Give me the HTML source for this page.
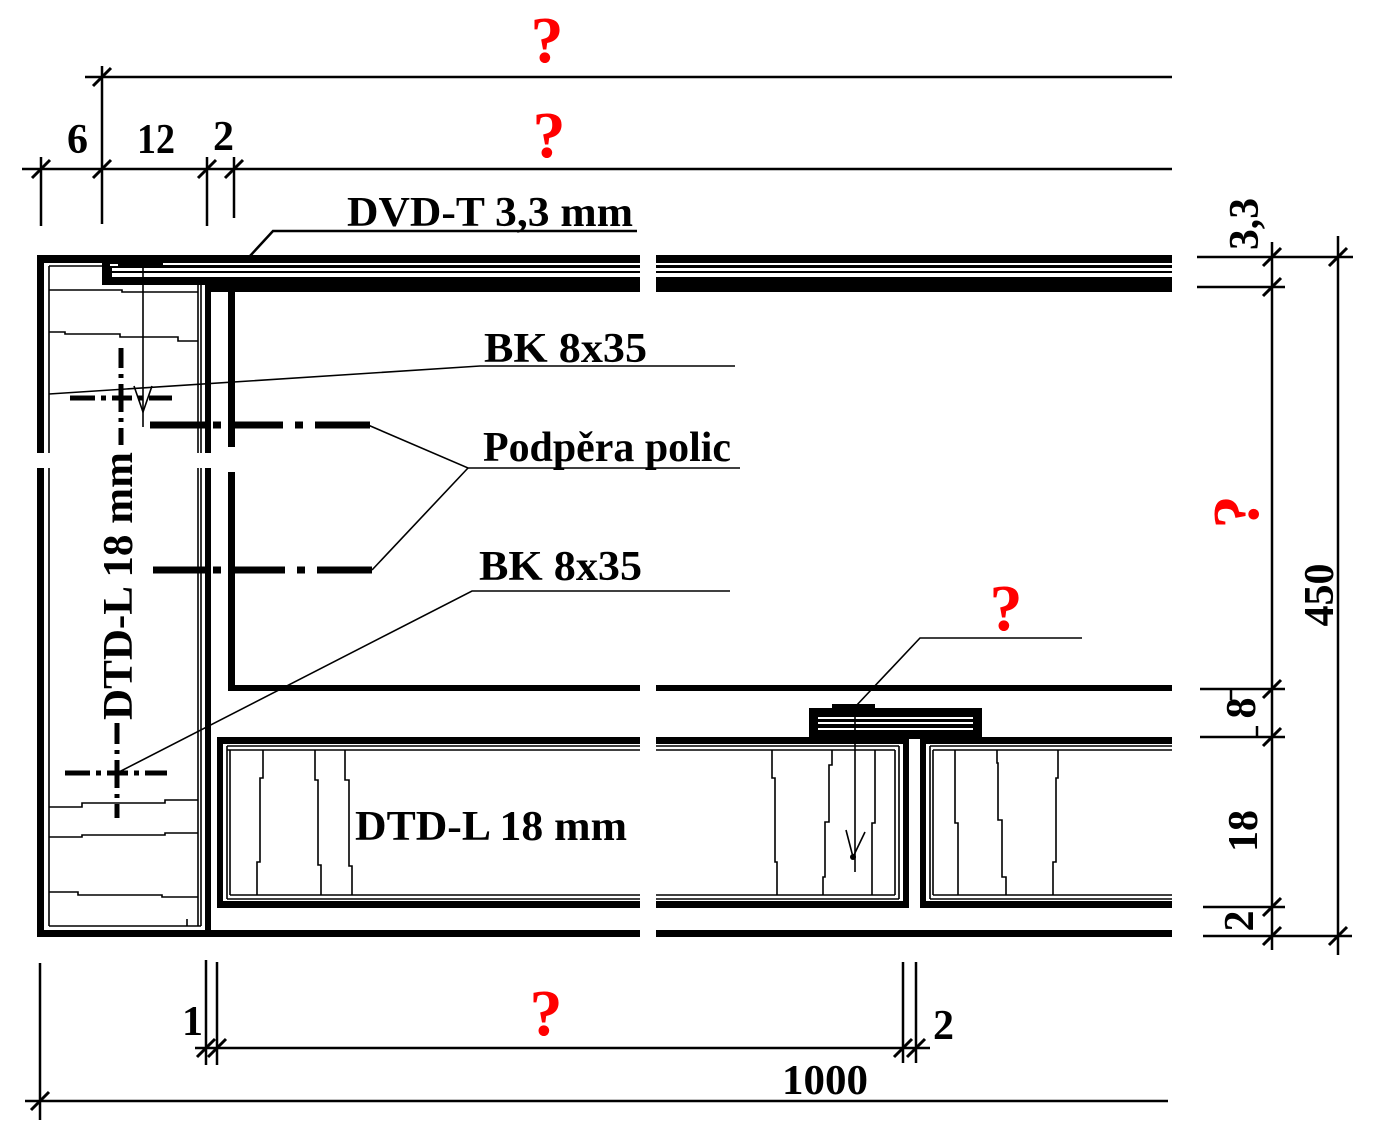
<!DOCTYPE html>
<html><head><meta charset="utf-8"><style>
html,body{margin:0;padding:0;background:#fff;}
svg{display:block;}
text{font-family:"Liberation Serif",serif;font-weight:bold;}
.r{fill:#ff0000;font-size:66px;}
.t{fill:#000;font-size:42px;}
</style></head><body>
<svg width="1377" height="1126" viewBox="0 0 1377 1126" xmlns="http://www.w3.org/2000/svg">
<rect width="1377" height="1126" fill="#fff"/>

<!-- dimension lines -->
<g stroke="#000" stroke-width="2.5" fill="none">
  <line x1="85" y1="77" x2="1172" y2="77"/>
  <line x1="102" y1="66" x2="102" y2="224"/>
  <line x1="22" y1="169" x2="1172" y2="169"/>
  <line x1="41" y1="157" x2="41" y2="226"/>
  <line x1="207" y1="157" x2="207" y2="226"/>
  <line x1="234" y1="157" x2="234" y2="218"/>
  <!-- right -->
  <line x1="1272" y1="242" x2="1272" y2="950"/>
  <line x1="1338" y1="236" x2="1338" y2="955"/>
  <line x1="1197" y1="257" x2="1353" y2="257"/>
  <line x1="1197" y1="287" x2="1285" y2="287"/>
  <line x1="1200" y1="689" x2="1285" y2="689"/>
  <line x1="1200" y1="737" x2="1285" y2="737"/>
  <line x1="1203" y1="907" x2="1285" y2="907"/>
  <line x1="1203" y1="936" x2="1352" y2="936"/>
  <line x1="1231" y1="689" x2="1231" y2="700"/>
  <line x1="1257" y1="726" x2="1257" y2="737"/>
  <!-- bottom -->
  <line x1="40" y1="963" x2="40" y2="1120"/>
  <line x1="25" y1="1101" x2="1168" y2="1101"/>
  <line x1="206" y1="960" x2="206" y2="1065"/>
  <line x1="217" y1="962" x2="217" y2="1065"/>
  <line x1="195" y1="1048" x2="930" y2="1048"/>
  <line x1="903" y1="962" x2="903" y2="1063"/>
  <line x1="916" y1="962" x2="916" y2="1063"/>
</g>
<!-- ticks -->
<g stroke="#000" stroke-width="3" fill="none">
  <path d="M93,86 L111,68 M32,178 L50,160 M93,178 L111,160 M198,178 L216,160 M225,178 L243,160
           M1263,266 L1281,248 M1263,296 L1281,278 M1329,266 L1347,248
           M1263,698 L1281,680 M1263,746 L1281,728 M1263,916 L1281,898 M1263,945 L1281,927 M1329,945 L1347,927
           M31,1110 L49,1092 M197,1057 L215,1039 M208,1057 L226,1039 M894,1057 L912,1039 M907,1057 L925,1039"/>
</g>

<!-- top panel (DVD-T + top board) -->
<g fill="#000">
  <rect x="37" y="255" width="603" height="8"/>
  <rect x="656" y="255" width="516" height="8"/>
  <rect x="102" y="262" width="106" height="23"/>
  <rect x="208" y="262" width="432" height="30"/>
  <rect x="656" y="262" width="516" height="30"/>
</g>
<g fill="#fff">
  <rect x="163" y="263" width="477" height="2"/>
  <rect x="656" y="263" width="516" height="2"/>
  <rect x="112" y="268" width="528" height="3"/>
  <rect x="656" y="268" width="516" height="3"/>
  <rect x="112" y="273" width="528" height="4"/>
  <rect x="656" y="273" width="516" height="4"/>
  <rect x="110" y="264" width="8" height="2"/>
</g>

<!-- left side panel -->
<g fill="#000">
  <rect x="37" y="255" width="7" height="198"/>
  <rect x="37" y="468" width="7" height="469"/>
  <rect x="205" y="283" width="6" height="170"/>
  <rect x="205" y="468" width="6" height="469"/>
  <rect x="228" y="283" width="7" height="164"/>
  <rect x="228" y="472" width="7" height="219"/>
  <rect x="228" y="685" width="412" height="6"/>
  <rect x="656" y="685" width="516" height="6"/>
  <rect x="37" y="930" width="603" height="7"/>
  <rect x="656" y="930" width="516" height="7"/>
</g>
<g stroke="#000" stroke-width="1.6" fill="none">
  <line x1="49" y1="266" x2="102" y2="266"/>
  <line x1="49" y1="266" x2="49" y2="453"/>
  <line x1="49" y1="468" x2="49" y2="926"/>
  <line x1="49" y1="926" x2="201" y2="926"/>
  <line x1="198" y1="285" x2="198" y2="453"/>
  <line x1="198" y1="468" x2="198" y2="926"/>
  <line x1="201" y1="285" x2="201" y2="453"/>
  <line x1="201" y1="468" x2="201" y2="926"/>
  <line x1="187" y1="919" x2="187" y2="926"/>
  <!-- grain -->
  <polyline points="49,290 122,290 122,292 198,292"/>
  <polyline points="49,332 65,332 65,334 120,334 120,337 178,337 178,341 198,341"/>
  <polyline points="49,807 82,807 82,803 165,803 165,800 198,800"/>
  <polyline points="49,837 82,837 82,835 165,835 165,833 198,833"/>
  <polyline points="49,892 78,892 78,895 162,895 162,897 198,897"/>
  <!-- screw in side -->
  <line x1="143" y1="265" x2="143" y2="427"/>
  <polyline points="134,386 143,412 152,386"/>
  <!-- BK leader top -->
  <polyline points="49,394 480,366 735,366"/>
  <!-- podpera leaders -->
  <polyline points="368,425 468,468 740,468"/>
  <line x1="372" y1="570" x2="468" y2="468"/>
  <!-- BK leader bottom -->
  <polyline points="117,773 472,591 730,591"/>
  <!-- plate leader -->
  <polyline points="855,707 920,638 1082,638"/>
</g>
<polyline points="250,256 273,231 637,231" stroke="#000" stroke-width="2.5" fill="none"/>

<!-- centre crosses -->
<g stroke="#000" stroke-width="5" fill="none">
  <path d="M121,348 V368 M121,374 V378 M121,384 V412 M121,418 V422 M121,428 V445"/>
  <path d="M70,398 H95 M101,398 H106 M112,398 H132 M138,398 H143 M149,398 H172"/>
  <path d="M117,723 V744 M117,750 V754 M117,760 V788 M117,794 V798 M117,804 V818"/>
  <path d="M65,773 H90 M96,773 H101 M107,773 H128 M134,773 H139 M145,773 H167"/>
</g>
<!-- shelf supports -->
<g stroke="#000" stroke-width="7" fill="none">
  <path d="M150,425 H211 M213,425 H221 M228,425 H283 M295,425 H303 M315,425 H370"/>
  <path d="M153,570 H211 M213,570 H221 M228,570 H285 M297,570 H305 M317,570 H372"/>
</g>

<!-- lower board boxes -->
<g fill="#000">
  <rect x="217" y="737" width="423" height="7"/>
  <rect x="217" y="737" width="6" height="171"/>
  <rect x="217" y="901" width="423" height="7"/>
  <rect x="656" y="737" width="253" height="7"/>
  <rect x="903" y="737" width="6" height="171"/>
  <rect x="656" y="901" width="253" height="7"/>
  <rect x="920" y="737" width="252" height="7"/>
  <rect x="920" y="737" width="6" height="171"/>
  <rect x="920" y="901" width="252" height="7"/>
  <!-- plate -->
  <rect x="809" y="708" width="173" height="31"/>
  <rect x="832" y="704" width="43" height="5"/>
</g>
<g fill="#fff">
  <rect x="818" y="717" width="155" height="2"/>
  <rect x="818" y="722" width="155" height="2"/>
  <rect x="818" y="728" width="155" height="2"/>
</g>
<g stroke="#000" stroke-width="1.6" fill="none">
  <path d="M227,746 H640 M227,750 H640 M227,746 V899 M230,750 V895 M227,899 H640 M230,895 H640"/>
  <path d="M656,746 H899 M656,750 H895 M899,746 V899 M895,750 V895 M656,899 H899 M656,895 H895"/>
  <path d="M930,746 H1172 M933,750 H1172 M930,746 V899 M933,750 V895 M930,899 H1172 M933,895 H1172"/>
  <!-- grain -->
  <polyline points="263,750 263,778 260,778 260,862 257,862 257,895"/>
  <polyline points="315,750 315,780 318,780 318,865 321,865 321,895"/>
  <polyline points="345,750 345,780 349,780 349,866 352,866 352,895"/>
  <polyline points="772,750 772,778 775,778 775,862 777,862 777,895"/>
  <polyline points="832,750 832,765 829,765 829,822 825,822 825,877 823,877 823,895"/>
  <polyline points="875,750 875,823 872,823 872,895"/>
  <polyline points="955,750 955,823 958,823 958,895"/>
  <polyline points="997,750 997,763 998,763 998,820 1002,820 1002,877 1006,877 1006,895"/>
  <polyline points="1058,750 1058,778 1056,778 1056,862 1053,862 1053,895"/>
  <!-- screw -->
  <line x1="855" y1="706" x2="855" y2="872"/>
  <polyline points="846,830 853,857 865,832"/>
</g>
<circle cx="853" cy="857" r="3" fill="#000"/>

<!-- labels -->
<g class="t">
  <text x="67" y="153">6</text>
  <text x="137" y="153" textLength="38" lengthAdjust="spacingAndGlyphs">12</text>
  <text x="213" y="150">2</text>
  <text x="347" y="226" textLength="286" lengthAdjust="spacingAndGlyphs">DVD-T 3,3 mm</text>
  <text x="484" y="362" textLength="163" lengthAdjust="spacingAndGlyphs">BK 8x35</text>
  <text x="483" y="461" textLength="248" lengthAdjust="spacingAndGlyphs">Podpěra polic</text>
  <text x="479" y="580" textLength="163" lengthAdjust="spacingAndGlyphs">BK 8x35</text>
  <text x="355" y="840" textLength="272" lengthAdjust="spacingAndGlyphs">DTD-L 18 mm</text>
  <text x="182" y="1035">1</text>
  <text x="933" y="1039">2</text>
  <text x="782" y="1094" textLength="86" lengthAdjust="spacingAndGlyphs">1000</text>
  <text transform="translate(132,720) rotate(-90)" textLength="268" lengthAdjust="spacingAndGlyphs">DTD-L 18 mm</text>
  <text transform="translate(1258,250) rotate(-90)" textLength="52" lengthAdjust="spacingAndGlyphs">3,3</text>
  <text transform="translate(1255,708) rotate(-90)" text-anchor="middle">8</text>
  <text transform="translate(1257,831) rotate(-90)" text-anchor="middle">18</text>
  <text transform="translate(1253,921) rotate(-90)" text-anchor="middle">2</text>
  <text transform="translate(1333,595) rotate(-90)" text-anchor="middle">450</text>
</g>
<g class="r" text-anchor="middle">
  <text x="547" y="62">?</text>
  <text x="549" y="157">?</text>
  <text x="1006" y="630">?</text>
  <text x="546" y="1035">?</text>
  <text transform="translate(1258,512) rotate(-90)">?</text>
</g>
</svg>
</body></html>
